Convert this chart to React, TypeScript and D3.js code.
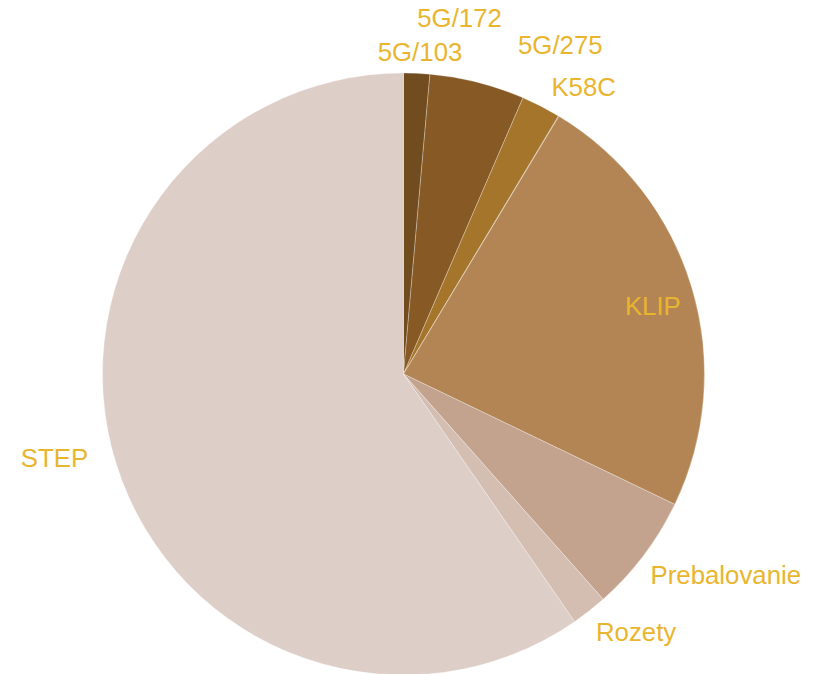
import React from 'react';
import * as d3 from 'd3';

// slice order is clockwise from 12 o'clock
const categories = ['5G/103', '5G/172', '5G/275', 'K58C', 'KLIP', 'Prebalovanie', 'Rozety', 'STEP'];
const shares = [1.4, 5.1, 2.11, 0.03, 23.5, 6.33, 1.92, 59.64];
const sliceColors = ['#714c1f', '#875924', '#a4752b', '#a87a3c', '#b48554', '#c4a38e', '#d4beb2', '#ddcec8'];

// labels that sit inside their slice
const insideLabels = ['KLIP'];

// small hand nudges so the crowded labels do not collide
const labelNudge: Record<string, [number, number]> = {
	'5G/103': [2, 8],
	'5G/172': [-25, -36],
	'5G/275': [6, -35],
	K58C: [10, -4],
	KLIP: [5, 5],
	Prebalovanie: [59, 2],
	Rozety: [29, -2],
	STEP: [-34, -14],
};

const width = 816;
const height = 674;

export default function App() {
	const cx = 403.5;
	const cy = 374;
	const radius = 301;

	const data = categories.map((c, i) => ({ name: c, value: shares[i], color: sliceColors[i] }));

	const pie = d3
		.pie<any>()
		.sort(null)
		.value(d => d.value);
	const arcs = pie(data);

	const arc = d3.arc<any>().innerRadius(0).outerRadius(radius);
	const outerLabelArc = d3.arc<any>().innerRadius(330).outerRadius(330);
	const innerLabelArc = d3.arc<any>().innerRadius(255).outerRadius(255);

	return (
		<svg
			width={width}
			height={height}
			style={{ position: 'absolute', left: 0, top: 0 }}
			fontFamily="'Liberation Sans', Arial, sans-serif"
		>
			<g transform={`translate(${cx},${cy})`}>
				{arcs.map(a => (
					<path
						key={a.data.name}
						d={arc(a) as string}
						fill={a.data.color}
						stroke="#ffffff"
						strokeOpacity={0.4}
						strokeWidth={0.7}
					/>
				))}
				{arcs.map(a => {
					const inside = insideLabels.includes(a.data.name);
					const [x, y] = (inside ? innerLabelArc : outerLabelArc).centroid(a);
					const [nx, ny] = labelNudge[a.data.name] || [0, 0];
					return (
						<text
							key={'l' + a.data.name}
							x={x + nx}
							y={y + ny}
							textAnchor="middle"
							dominantBaseline="central"
							fontSize={25.8}
							fill="#e9b52e"
						>
							{a.data.name}
						</text>
					);
				})}
			</g>
		</svg>
	);
}
